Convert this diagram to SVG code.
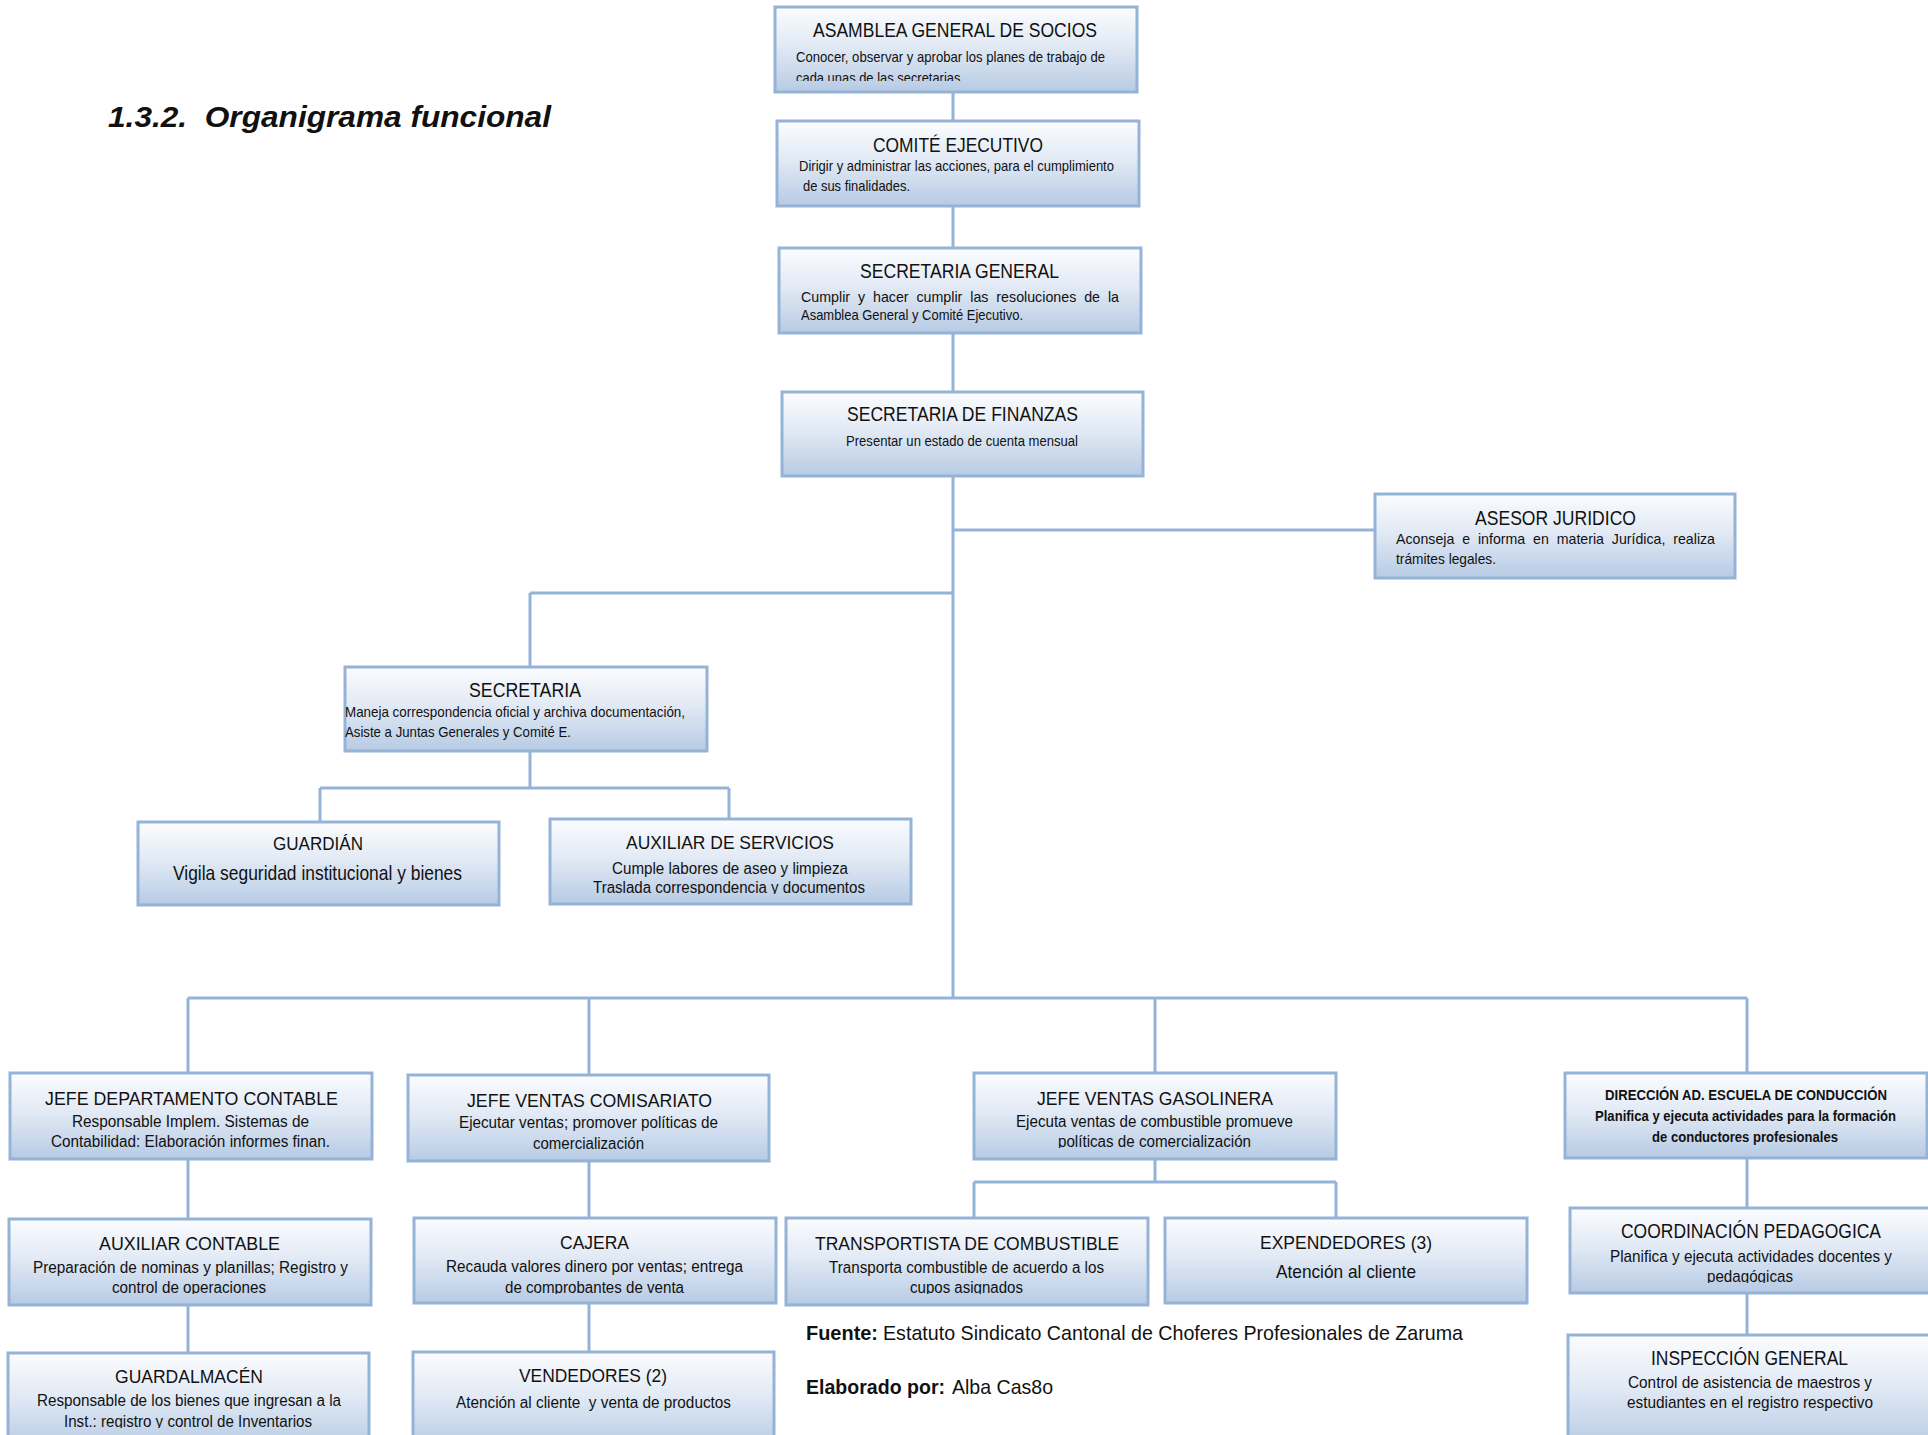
<svg xmlns="http://www.w3.org/2000/svg" width="1928" height="1435" viewBox="0 0 1928 1435">
<defs>
<linearGradient id="bg" x1="0" y1="0" x2="0" y2="1">
<stop offset="0" stop-color="#fbfcfe"/>
<stop offset="0.45" stop-color="#e2eaf5"/>
<stop offset="1" stop-color="#b7cbe4"/>
</linearGradient>
<clipPath id="c81"><rect x="0" y="0" width="1928" height="81"/></clipPath>
<clipPath id="c894"><rect x="0" y="0" width="1928" height="894"/></clipPath>
<clipPath id="c1294"><rect x="0" y="0" width="1928" height="1294"/></clipPath>
<clipPath id="c1148"><rect x="0" y="0" width="1928" height="1148"/></clipPath>
<clipPath id="c1283"><rect x="0" y="0" width="1928" height="1283"/></clipPath>
<clipPath id="c1428"><rect x="0" y="0" width="1928" height="1428"/></clipPath>
</defs>
<style>
.box{fill:url(#bg);stroke:#95b3d7;stroke-width:3}
.cn line{stroke:#95b3d7;stroke-width:3;fill:none}
text{font-family:"Liberation Sans",Arial,sans-serif;fill:#111;white-space:pre}
.h{font-size:20px}
.h2{font-size:19px}
.d{font-size:15px}
.d2{font-size:16px}
.d3{font-size:17px}
.b{font-size:14px;font-weight:bold}
.src{font-size:21px}
.ttl{font-size:30px;font-weight:bold;font-style:italic}
</style>
<rect width="1928" height="1435" fill="#fff"/>
<text class="ttl" x="108" y="127" textLength="443" lengthAdjust="spacingAndGlyphs">1.3.2.  Organigrama funcional</text>

<g id="connectors" class="cn">
<line x1="953" y1="92" x2="953" y2="121"/>
<line x1="953" y1="206" x2="953" y2="248"/>
<line x1="953" y1="333" x2="953" y2="392"/>
<line x1="953" y1="476" x2="953" y2="999"/>
<line x1="953" y1="530" x2="1375" y2="530"/>
<line x1="530" y1="593" x2="953" y2="593"/>
<line x1="530" y1="593" x2="530" y2="667"/>
<line x1="530" y1="751" x2="530" y2="788"/>
<line x1="320" y1="788" x2="729" y2="788"/>
<line x1="320" y1="788" x2="320" y2="822"/>
<line x1="729" y1="788" x2="729" y2="819"/>
<line x1="188" y1="998" x2="1747" y2="998"/>
<line x1="188" y1="998" x2="188" y2="1073"/>
<line x1="589" y1="998" x2="589" y2="1075"/>
<line x1="1155" y1="998" x2="1155" y2="1073"/>
<line x1="1747" y1="998" x2="1747" y2="1073"/>
<line x1="188" y1="1159" x2="188" y2="1219"/>
<line x1="188" y1="1305" x2="188" y2="1353"/>
<line x1="589" y1="1161" x2="589" y2="1218"/>
<line x1="589" y1="1303" x2="589" y2="1352"/>
<line x1="1155" y1="1159" x2="1155" y2="1182"/>
<line x1="974" y1="1182" x2="1336" y2="1182"/>
<line x1="974" y1="1182" x2="974" y2="1218"/>
<line x1="1336" y1="1182" x2="1336" y2="1218"/>
<line x1="1747" y1="1158" x2="1747" y2="1208"/>
<line x1="1747" y1="1293" x2="1747" y2="1335"/>
</g>

<g id="asamblea">
<rect class="box" x="775" y="7" width="362" height="85"/>
<text class="h" x="813" y="37" textLength="284" lengthAdjust="spacingAndGlyphs">ASAMBLEA GENERAL DE SOCIOS</text>
<text class="d" x="796" y="62" textLength="309" lengthAdjust="spacingAndGlyphs">Conocer, observar y aprobar los planes de trabajo de</text>
<text class="d" x="796" y="83" textLength="168" lengthAdjust="spacingAndGlyphs" clip-path="url(#c81)">cada unas de las secretarias.</text>
</g>
<g id="comite">
<rect class="box" x="777" y="121" width="362" height="85"/>
<text class="h" x="873" y="152" textLength="170" lengthAdjust="spacingAndGlyphs">COMITÉ EJECUTIVO</text>
<text class="d" x="799" y="171" textLength="315" lengthAdjust="spacingAndGlyphs">Dirigir y administrar las acciones, para el cumplimiento</text>
<text class="d" x="803" y="191" textLength="107" lengthAdjust="spacingAndGlyphs">de sus finalidades.</text>
</g>
<g id="secretaria-general">
<rect class="box" x="779" y="248" width="362" height="85"/>
<text class="h" x="860" y="278" textLength="199" lengthAdjust="spacingAndGlyphs">SECRETARIA GENERAL</text>
<text class="d" x="801" y="302" textLength="318" lengthAdjust="spacingAndGlyphs">Cumplir  y  hacer  cumplir  las  resoluciones  de  la</text>
<text class="d" x="801" y="320" textLength="222" lengthAdjust="spacingAndGlyphs">Asamblea General y Comité Ejecutivo.</text>
</g>
<g id="secretaria-finanzas">
<rect class="box" x="782" y="392" width="361" height="84"/>
<text class="h" x="847" y="421" textLength="231" lengthAdjust="spacingAndGlyphs">SECRETARIA DE FINANZAS</text>
<text class="d" x="846" y="446" textLength="232" lengthAdjust="spacingAndGlyphs">Presentar un estado de cuenta mensual</text>
</g>
<g id="asesor">
<rect class="box" x="1375" y="494" width="360" height="84"/>
<text class="h" x="1475" y="525" textLength="161" lengthAdjust="spacingAndGlyphs">ASESOR JURIDICO</text>
<text class="d" x="1396" y="544" textLength="319" lengthAdjust="spacingAndGlyphs">Aconseja  e  informa  en  materia  Jurídica,  realiza</text>
<text class="d" x="1396" y="564" textLength="100" lengthAdjust="spacingAndGlyphs">trámites legales.</text>
</g>
<g id="secretaria">
<rect class="box" x="345" y="667" width="362" height="84"/>
<text class="h" x="469" y="697" textLength="112" lengthAdjust="spacingAndGlyphs">SECRETARIA</text>
<text class="d" x="345" y="717" textLength="340" lengthAdjust="spacingAndGlyphs">Maneja correspondencia oficial y archiva documentación,</text>
<text class="d" x="345" y="737" textLength="226" lengthAdjust="spacingAndGlyphs">Asiste a Juntas Generales y Comité E.</text>
</g>
<g id="guardian">
<rect class="box" x="138" y="822" width="361" height="83"/>
<text class="h2" x="273" y="850" textLength="90" lengthAdjust="spacingAndGlyphs">GUARDIÁN</text>
<text x="173" y="880" font-size="21" textLength="289" lengthAdjust="spacingAndGlyphs">Vigila seguridad institucional y bienes</text>
</g>
<g id="auxiliar-servicios">
<rect class="box" x="550" y="819" width="361" height="85"/>
<text class="h2" x="626" y="849" textLength="208" lengthAdjust="spacingAndGlyphs">AUXILIAR DE SERVICIOS</text>
<text class="d2" x="612" y="874" textLength="236" lengthAdjust="spacingAndGlyphs">Cumple labores de aseo y limpieza</text>
<text class="d2" x="593" y="893" textLength="272" lengthAdjust="spacingAndGlyphs" clip-path="url(#c894)">Traslada correspondencia y documentos</text>
</g>
<g id="jefe-contable">
<rect class="box" x="10" y="1073" width="362" height="86"/>
<text class="h2" x="45" y="1105" textLength="293" lengthAdjust="spacingAndGlyphs">JEFE DEPARTAMENTO CONTABLE</text>
<text class="d2" x="72" y="1127" textLength="237" lengthAdjust="spacingAndGlyphs">Responsable Implem. Sistemas de</text>
<text class="d2" x="51" y="1147" textLength="279" lengthAdjust="spacingAndGlyphs">Contabilidad: Elaboración informes finan.</text>
</g>
<g id="auxiliar-contable">
<rect class="box" x="9" y="1219" width="362" height="86"/>
<text class="h2" x="99" y="1250" textLength="181" lengthAdjust="spacingAndGlyphs">AUXILIAR CONTABLE</text>
<text class="d2" x="33" y="1273" textLength="315" lengthAdjust="spacingAndGlyphs">Preparación de nominas y planillas; Registro y</text>
<text class="d2" x="112" y="1293" textLength="154" lengthAdjust="spacingAndGlyphs" clip-path="url(#c1294)">control de operaciones</text>
</g>
<g id="guardalmacen">
<rect class="box" x="8" y="1353" width="361" height="95"/>
<text class="h2" x="115" y="1383" textLength="148" lengthAdjust="spacingAndGlyphs">GUARDALMACÉN</text>
<text class="d2" x="37" y="1406" textLength="304" lengthAdjust="spacingAndGlyphs">Responsable de los bienes que ingresan a la</text>
<text class="d2" x="64" y="1427" textLength="248" lengthAdjust="spacingAndGlyphs" clip-path="url(#c1428)">Inst.: registro y control de Inventarios</text>
</g>
<g id="jefe-comisariato">
<rect class="box" x="408" y="1075" width="361" height="86"/>
<text class="h2" x="467" y="1107" textLength="245" lengthAdjust="spacingAndGlyphs">JEFE VENTAS COMISARIATO</text>
<text class="d2" x="459" y="1128" textLength="259" lengthAdjust="spacingAndGlyphs">Ejecutar ventas; promover políticas de</text>
<text class="d2" x="533" y="1149" textLength="111" lengthAdjust="spacingAndGlyphs">comercialización</text>
</g>
<g id="cajera">
<rect class="box" x="414" y="1218" width="362" height="85"/>
<text class="h2" x="560" y="1249" textLength="69" lengthAdjust="spacingAndGlyphs">CAJERA</text>
<text class="d2" x="446" y="1272" textLength="297" lengthAdjust="spacingAndGlyphs">Recauda valores dinero por ventas; entrega</text>
<text class="d2" x="505" y="1293" textLength="179" lengthAdjust="spacingAndGlyphs" clip-path="url(#c1294)">de comprobantes de venta</text>
</g>
<g id="vendedores">
<rect class="box" x="413" y="1352" width="361" height="96"/>
<text class="h2" x="519" y="1382" textLength="148" lengthAdjust="spacingAndGlyphs">VENDEDORES (2)</text>
<text class="d2" x="456" y="1408" textLength="275" lengthAdjust="spacingAndGlyphs">Atención al cliente  y venta de productos</text>
</g>
<g id="jefe-gasolinera">
<rect class="box" x="974" y="1073" width="362" height="86"/>
<text class="h2" x="1037" y="1105" textLength="236" lengthAdjust="spacingAndGlyphs">JEFE VENTAS GASOLINERA</text>
<text class="d2" x="1016" y="1127" textLength="277" lengthAdjust="spacingAndGlyphs">Ejecuta ventas de combustible promueve</text>
<text class="d2" x="1058" y="1147" textLength="193" lengthAdjust="spacingAndGlyphs" clip-path="url(#c1148)">políticas de comercialización</text>
</g>
<g id="transportista">
<rect class="box" x="786" y="1218" width="362" height="87"/>
<text class="h2" x="815" y="1250" textLength="304" lengthAdjust="spacingAndGlyphs">TRANSPORTISTA DE COMBUSTIBLE</text>
<text class="d2" x="829" y="1273" textLength="275" lengthAdjust="spacingAndGlyphs">Transporta combustible de acuerdo a los</text>
<text class="d2" x="910" y="1293" textLength="113" lengthAdjust="spacingAndGlyphs" clip-path="url(#c1294)">cupos asignados</text>
</g>
<g id="expendedores">
<rect class="box" x="1165" y="1218" width="362" height="85"/>
<text class="h2" x="1260" y="1249" textLength="172" lengthAdjust="spacingAndGlyphs">EXPENDEDORES (3)</text>
<text class="h2" x="1276" y="1278" textLength="140" lengthAdjust="spacingAndGlyphs">Atención al cliente</text>
</g>
<g id="direccion">
<rect class="box" x="1565" y="1073" width="362" height="85"/>
<text class="b" x="1605" y="1100" textLength="282" lengthAdjust="spacingAndGlyphs">DIRECCIÓN AD. ESCUELA DE CONDUCCIÓN</text>
<text class="b" x="1595" y="1121" textLength="301" lengthAdjust="spacingAndGlyphs">Planifica y ejecuta actividades para la formación</text>
<text class="b" x="1652" y="1142" textLength="186" lengthAdjust="spacingAndGlyphs">de conductores profesionales</text>
</g>
<g id="coordinacion">
<rect class="box" x="1570" y="1208" width="364" height="85"/>
<text class="h" x="1621" y="1238" textLength="260" lengthAdjust="spacingAndGlyphs">COORDINACIÓN PEDAGOGICA</text>
<text class="d3" x="1610" y="1262" textLength="282" lengthAdjust="spacingAndGlyphs">Planifica y ejecuta actividades docentes y</text>
<text class="d3" x="1707" y="1282" textLength="86" lengthAdjust="spacingAndGlyphs" clip-path="url(#c1283)">pedagógicas</text>
</g>
<g id="inspeccion">
<rect class="box" x="1568" y="1335" width="366" height="113"/>
<text class="h" x="1651" y="1365" textLength="197" lengthAdjust="spacingAndGlyphs">INSPECCIÓN GENERAL</text>
<text class="d3" x="1628" y="1388" textLength="244" lengthAdjust="spacingAndGlyphs">Control de asistencia de maestros y</text>
<text class="d3" x="1627" y="1408" textLength="246" lengthAdjust="spacingAndGlyphs">estudiantes en el registro respectivo</text>
</g>

<g id="notes">
<text class="src" x="806" y="1340" font-weight="bold" textLength="72" lengthAdjust="spacingAndGlyphs">Fuente:</text>
<text class="src" x="883" y="1340" textLength="580" lengthAdjust="spacingAndGlyphs">Estatuto Sindicato Cantonal de Choferes Profesionales de Zaruma</text>
<text class="src" x="806" y="1394" font-weight="bold" textLength="139" lengthAdjust="spacingAndGlyphs">Elaborado por:</text>
<text class="src" x="952" y="1394" textLength="101" lengthAdjust="spacingAndGlyphs">Alba Cas8o</text>
</g>
</svg>
